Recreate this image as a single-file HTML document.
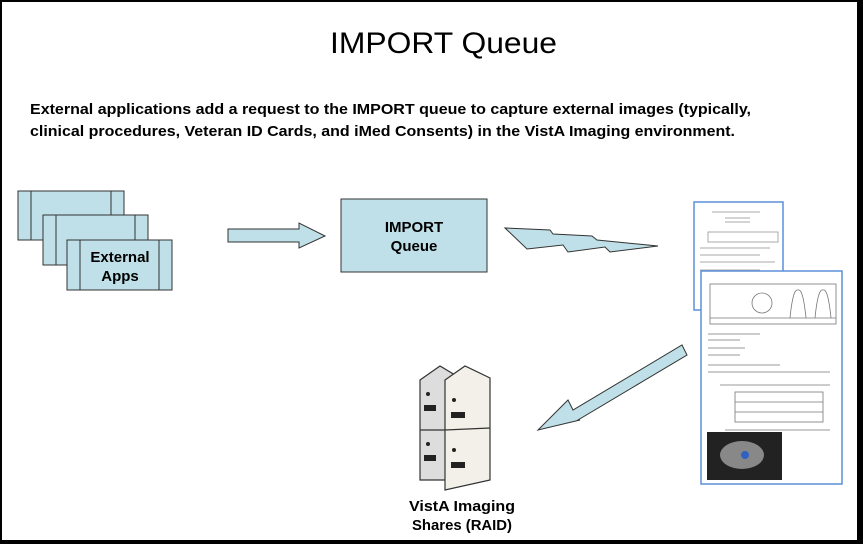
<!DOCTYPE html>
<html><head><meta charset="utf-8"><style>
html,body{margin:0;padding:0;background:#fff}
svg{display:block}
text{font-family:"Liberation Sans",Arial,sans-serif}
</style></head><body>
<svg width="863" height="544" viewBox="0 0 863 544" xmlns="http://www.w3.org/2000/svg">
<rect x="0" y="0" width="863" height="544" fill="#fff"/>
<rect x="1" y="1" width="857" height="540" fill="none" stroke="#000" stroke-width="2"/>
<rect x="857" y="0" width="6" height="544" fill="#000"/>
<rect x="0" y="540" width="863" height="4" fill="#000"/>
<text x="330" y="53" font-size="30" textLength="227" lengthAdjust="spacingAndGlyphs">IMPORT Queue</text>
<text x="30" y="114" font-size="15" font-weight="bold" textLength="721" lengthAdjust="spacingAndGlyphs">External applications add a request to the IMPORT queue to capture external images (typically,</text>
<text x="30" y="136" font-size="15" font-weight="bold" textLength="705" lengthAdjust="spacingAndGlyphs">clinical procedures, Veteran ID Cards, and iMed Consents) in the VistA Imaging environment.</text>
<g fill="#bfe0e8" stroke="#333" stroke-width="1">
<rect x="18" y="191" width="106" height="49"/><line x1="31" y1="191" x2="31" y2="240"/><line x1="111" y1="191" x2="111" y2="240"/>
<rect x="43" y="215" width="105" height="50"/><line x1="56" y1="215" x2="56" y2="265"/><line x1="135" y1="215" x2="135" y2="265"/>
<rect x="67" y="240" width="105" height="50"/><line x1="80" y1="240" x2="80" y2="290"/><line x1="159" y1="240" x2="159" y2="290"/>
<polygon points="228,229 299,229 299,223 325,236 299,248 299,242 228,242"/>
<rect x="341" y="199" width="146" height="73"/>
<polygon points="505,228 550,230 553,234 592,236 597,240 658,246 610,252 605,247 568,252 563,245 527,249"/>
<polygon points="538,430 568,400 573,410 682,345 687,355 578,420 580,420"/>
</g>
<text x="120" y="262" font-size="15" font-weight="bold" text-anchor="middle">External</text>
<text x="120" y="281" font-size="15" font-weight="bold" text-anchor="middle">Apps</text>
<text x="414" y="232" font-size="15" font-weight="bold" text-anchor="middle">IMPORT</text>
<text x="414" y="251" font-size="15" font-weight="bold" text-anchor="middle">Queue</text>
<!-- doc 1 -->
<rect x="694" y="202" width="89" height="108" fill="#fff" stroke="#5b8fd8" stroke-width="1.5"/>
<g stroke="#aaa" stroke-width="1">
<line x1="712" y1="212" x2="760" y2="212"/><line x1="725" y1="218" x2="750" y2="218"/><line x1="725" y1="222" x2="750" y2="222"/>
<rect x="708" y="232" width="70" height="10" fill="none"/>
<line x1="700" y1="248" x2="770" y2="248"/><line x1="700" y1="255" x2="760" y2="255"/><line x1="700" y1="262" x2="775" y2="262"/><line x1="700" y1="270" x2="760" y2="270"/>
</g>
<!-- doc 2 -->
<rect x="701" y="271" width="141" height="213" fill="#fff" stroke="#5b8fd8" stroke-width="1.5"/>
<g stroke="#777" stroke-width="0.8" fill="none">
<rect x="710" y="284" width="126" height="40"/>
<line x1="710" y1="318" x2="836" y2="318"/>
<circle cx="762" cy="303" r="10"/><path d="M790 318 Q793 288 798 290 Q803 288 806 318"/><path d="M815 318 Q818 288 823 290 Q828 288 831 318"/>
<line x1="708" y1="334" x2="760" y2="334"/><line x1="708" y1="340" x2="740" y2="340"/><line x1="708" y1="348" x2="745" y2="348"/><line x1="708" y1="355" x2="740" y2="355"/>
<line x1="708" y1="365" x2="780" y2="365"/><line x1="708" y1="372" x2="830" y2="372"/>
<line x1="720" y1="385" x2="830" y2="385"/>
<rect x="735" y="392" width="88" height="30"/><line x1="735" y1="402" x2="823" y2="402"/><line x1="735" y1="412" x2="823" y2="412"/>
<line x1="725" y1="430" x2="830" y2="430"/>
</g>
<rect x="707" y="432" width="75" height="48" fill="#222"/>
<ellipse cx="742" cy="455" rx="22" ry="14" fill="#888"/>
<circle cx="745" cy="455" r="4" fill="#3060c0"/>
<!-- server -->
<g stroke="#333" stroke-width="1.2">
<polygon points="420,380 440,366 460,378 460,480 420,480" fill="#ddd"/>
<polygon points="445,380 465,366 490,378 490,480 445,490" fill="#f2f0e8"/>
<line x1="445" y1="430" x2="490" y2="428"/>
<line x1="420" y1="430" x2="445" y2="430"/>
</g>
<g fill="#222">
<rect x="451" y="412" width="14" height="6"/><circle cx="454" cy="400" r="2"/>
<rect x="451" y="462" width="14" height="6"/><circle cx="454" cy="450" r="2"/>
<rect x="424" y="405" width="12" height="6"/><circle cx="428" cy="394" r="2"/>
<rect x="424" y="455" width="12" height="6"/><circle cx="428" cy="444" r="2"/>
</g>
<text x="462" y="511" font-size="15" font-weight="bold" text-anchor="middle" textLength="106" lengthAdjust="spacingAndGlyphs">VistA Imaging</text>
<text x="462" y="530" font-size="15" font-weight="bold" text-anchor="middle" textLength="100" lengthAdjust="spacingAndGlyphs">Shares (RAID)</text>
</svg>
</body></html>
